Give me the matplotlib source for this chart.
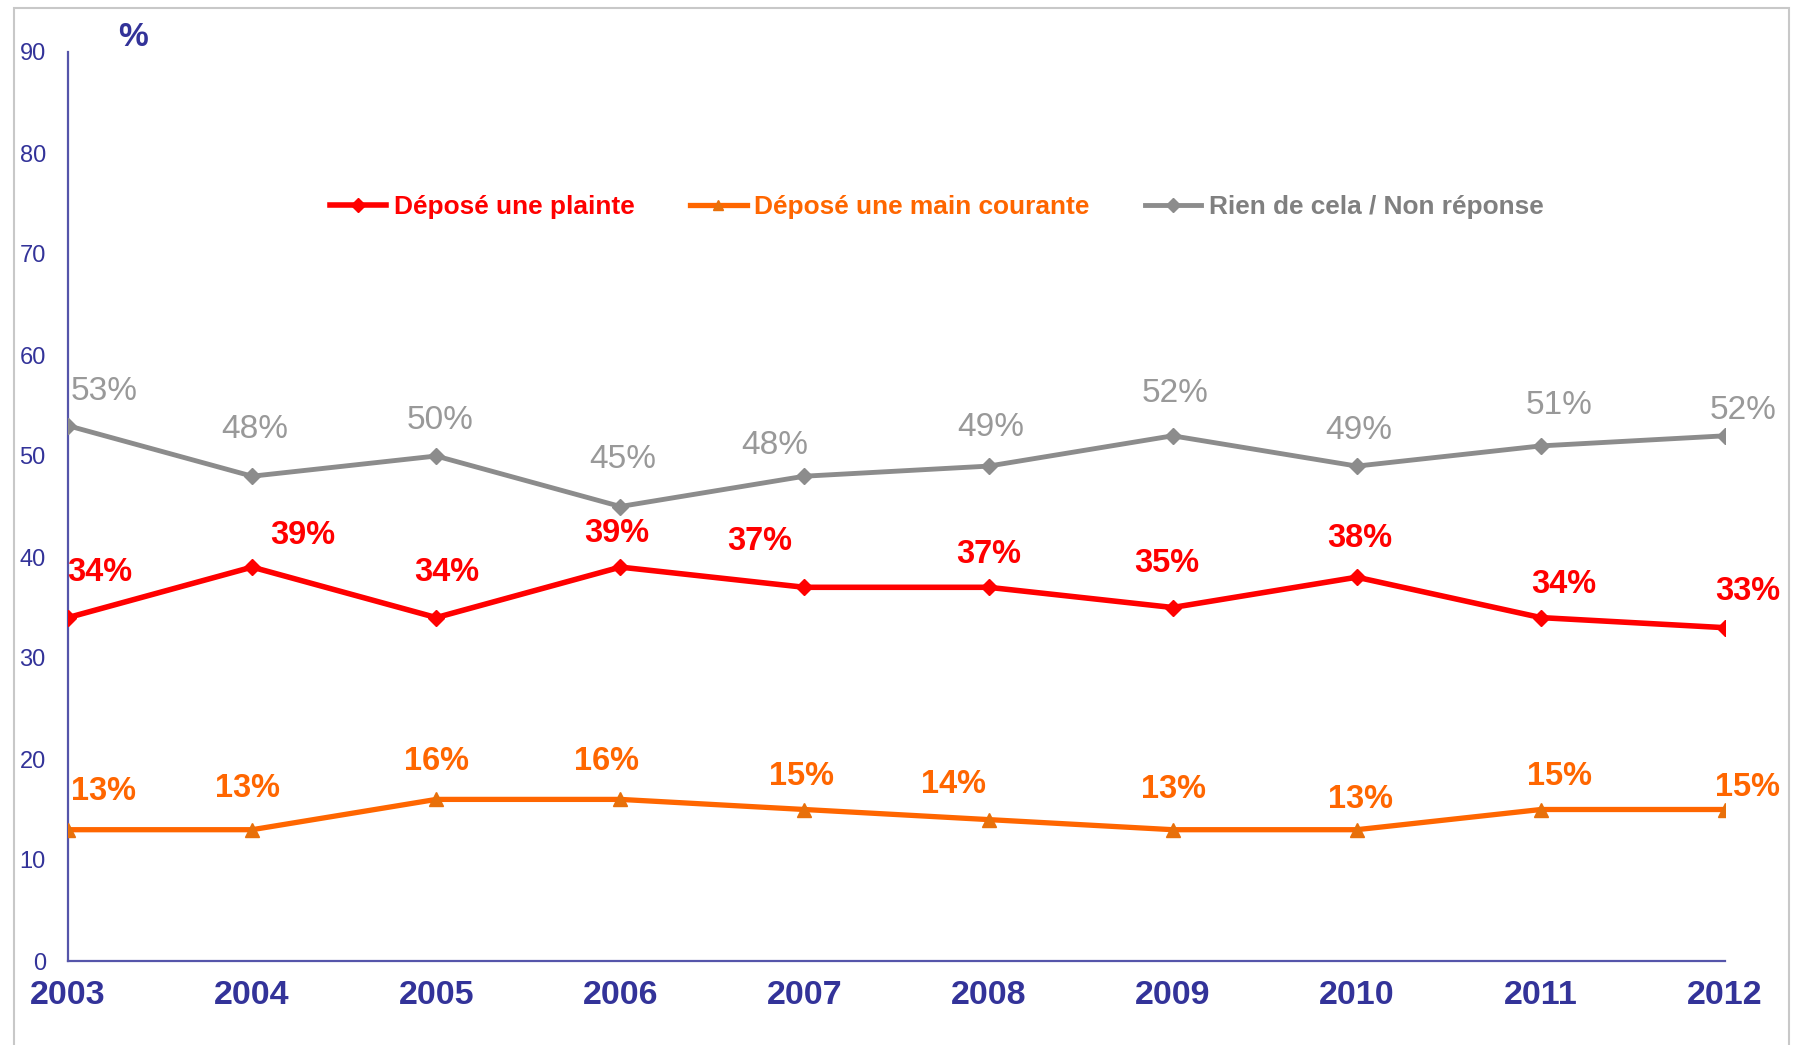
import matplotlib
matplotlib.use("Agg")
import matplotlib.pyplot as plt
from matplotlib.patches import Rectangle

years = [2003, 2004, 2005, 2006, 2007, 2008, 2009, 2010, 2011, 2012]
plainte = [34, 39, 34, 39, 37, 37, 35, 38, 34, 33]
main_courante = [13, 13, 16, 16, 15, 14, 13, 13, 15, 15]
rien = [53, 48, 50, 45, 48, 49, 52, 49, 51, 52]
labels = ["Déposé une plainte", "Déposé une main courante", "Rien de cela / Non réponse"]
yticks = [0, 10, 20, 30, 40, 50, 60, 70, 80, 90]

# label offsets (reference pixels, x right / y down), styling only
off_rien = [(32, -30), (2, -41), (3, -31), (2, -41), (-26, -27), (2, -34), (2, -37), (2, -31), (16, -35), (16, -22)]
off_plainte = [(28, -39), (44, -28), (9, -39), (-3, -29), (-39, -40), (0, -29), (-5, -38), (3, -34), (20, -29), (20, -32)]
off_main = [(31, -33), (-4, -36), (0, -33), (-12, -33), (-3, -29), (-31, -31), (1, -35), (3, -26), (16, -29), (20, -19)]

BLUE = "#333399"
RED = "#FF0000"
ORANGE = "#FF6600"
GREY = "#8C8C8C"
GREY_TXT = "#999999"

plt.rcParams['font.family'] = ['Liberation Sans', 'DejaVu Sans']

fig = plt.figure(figsize=(17.97, 10.45), dpi=100)
fig.patches.append(Rectangle((14 / 1797, -0.05), (1789 - 14) / 1797, 1.05 - 8 / 1045,
                             transform=fig.transFigure, fill=False, edgecolor="#C8C8C8",
                             linewidth=1.5, zorder=0))

ax = fig.add_axes([68 / 1797, 1 - 961 / 1045, (1725 - 68) / 1797, (961 - 52) / 1045])

l1, = ax.plot(years, plainte, color=RED, lw=4, marker='D', ms=8.5, mfc=RED, mec=RED,
              zorder=4)
l2, = ax.plot(years, main_courante, color=ORANGE, lw=3.8, marker='^', ms=10.5, mfc="#E8700A",
              mec="#E8700A", zorder=4)
l3, = ax.plot(years, rien, color=GREY, lw=3.5, marker='D', ms=8, mfc=GREY, mec=GREY, zorder=4)

S = 0.825
for vals, offs, col, fw, fs in [(plainte, off_plainte, RED, 'bold', 23.5),
                                (main_courante, off_main, ORANGE, 'bold', 23.5),
                                (rien, off_rien, GREY_TXT, 'normal', 24)]:
    for x, v, (dx, dy) in zip(years, vals, offs):
        ax.annotate(f"{v}%", (x, v), xytext=(dx * S, -dy * S), textcoords='offset points',
                    ha='center', va='center', fontsize=fs, color=col, fontweight=fw, zorder=5)

ax.set_xlim(years[0], years[-1])
ax.set_ylim(0, 90)
ax.set_xticks(years)
ax.set_xticklabels([str(y) for y in years], fontsize=24.5, fontweight='bold', color=BLUE)
ax.set_yticks(yticks)
ax.set_yticklabels([str(t) for t in yticks], fontsize=17, color=BLUE)
ax.tick_params(axis='both', length=0)
ax.tick_params(axis='x', pad=14)
ax.tick_params(axis='y', pad=16)
for s in ['top', 'right']:
    ax.spines[s].set_visible(False)
for s in ['left', 'bottom']:
    ax.spines[s].set_color("#5555AA")
    ax.spines[s].set_linewidth(1.6)
ax.set_facecolor('none')

fig.text(133 / 1797, 1 - 37 / 1045, "%", fontsize=24, fontweight='bold', color=BLUE,
         ha='center', va='center')

leg = fig.legend([l1, l2, l3], labels, loc='center left', bbox_to_anchor=(330 / 1797, 1 - 207 / 1045),
                 ncol=3, frameon=False, handlelength=2.15, handletextpad=0.3, columnspacing=2.1,
                 borderpad=0, borderaxespad=0,
                 prop={'family': ['Liberation Sans', 'DejaVu Sans'], 'weight': 'bold', 'size': 18.9})
for t, c in zip(leg.get_texts(), [RED, ORANGE, "#808080"]):
    t.set_color(c)
for h in leg.legend_handles:
    h.set_markersize(7)

fig.savefig("out.png", dpi=100)
